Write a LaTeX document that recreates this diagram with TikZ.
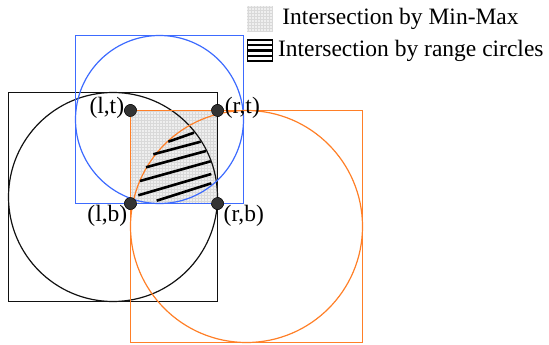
\documentclass[tikz,border=0pt]{standalone}
\usepackage{fontspec}
\setmainfont{Liberation Serif}
\usepackage{xcolor}
\definecolor{cBlack}{HTML}{111111}
\definecolor{cBlue}{HTML}{3D6BFF}
\definecolor{cOrange}{HTML}{FF7F27}
\definecolor{cDot}{HTML}{333333}
\definecolor{cGridBg}{HTML}{EFEFEF}
\definecolor{cGridLine}{HTML}{D9D9D9}
\usepackage{tikz}
\usetikzlibrary{positioning,calc}
\tikzset{
  range-black/.style={draw=cBlack,line width=1.2pt},
  range-blue/.style={draw=cBlue,line width=1.2pt},
  range-orange/.style={draw=cOrange,line width=1.2pt},
  grid-bg/.style={fill=cGridBg},
  grid-line/.style={draw=cGridLine,line width=0.25pt},
  hatch/.style={draw=black,line width=2.6pt},
  node-dot/.style={circle,draw=black,fill=cDot,minimum size=12pt,inner sep=0pt},
  node-label/.style={font=\fontsize{23.5}{26}\selectfont,inner sep=0pt},
  key-grid/.style={minimum width=26pt,minimum height=25pt,inner sep=0pt,
    path picture={
      \fill[grid-bg] (path picture bounding box.south west)
        rectangle (path picture bounding box.north east);
      \draw[grid-line,step=3pt] (path picture bounding box.south west)
        grid (path picture bounding box.north east);}},
  key-hatch/.style={draw=black,line width=0.6pt,minimum width=25pt,
    minimum height=22pt,inner sep=0pt,
    path picture={
      \foreach \f in {0,0.25,0.5,0.75,1}
        \draw[line width=2.4pt]
          ($(path picture bounding box.south west)!\f!(path picture bounding box.north west)$)
          -- ($(path picture bounding box.south east)!\f!(path picture bounding box.north east)$);}},
}

\begin{document}
\begin{tikzpicture}[x=1pt,y=-1pt]
  \useasboundingbox (0,0) rectangle (549,345);

  % corners of the Min-Max box
  \node[node-dot] (lt) at (130.5,110.5) {};
  \node[node-dot] (rt) at (217.5,110.5) {};
  \node[node-dot] (lb) at (130.5,203.5) {};
  \node[node-dot] (rb) at (217.5,203.5) {};

  % Min-Max intersection
  \fill[grid-bg] (lt.center) rectangle (rb.center);
  \begin{scope}
    \clip (lt.center) rectangle (rb.center);
    \draw[grid-line,step=3pt] (lt.center) grid (rb.center);
  \end{scope}

  % range squares and circles
  \draw[range-black] (8.5,92.5) rectangle (217.5,301.5);
  \draw[range-black] (113,197) circle[radius=104.5pt];
  \draw[range-blue] (75.5,35.5) rectangle (243.5,203.5);
  \draw[range-blue] (159.5,119.5) circle[radius=84pt];
  \draw[range-orange] (130.5,110.5) rectangle (362.5,342.5);
  \draw[range-orange] (246.5,226.5) circle[radius=116pt];

  % intersection by range circles
  \foreach \xa/\ya/\xb/\yb in {168.3/141.7/194/132.7, 153.3/154.3/200.7/141.7,
      146/167.3/206/151, 140/181/210.7/161.3, 138.3/195.3/211.3/174,
      156.7/200.7/211.3/183.3}
    \draw[hatch] (\xa,\ya) -- (\xb,\yb);

  \node[node-dot] at (lt) {};
  \node[node-dot] at (rt) {};
  \node[node-dot] at (lb) {};
  \node[node-dot] at (rb) {};

  \node[node-label,anchor=east] (lt-text) at ([yshift=3pt]lt.west) {(l,t)};
  \node[node-label,anchor=west] (rt-text) at ([xshift=1pt,yshift=3pt]rt.east) {(r,t)};
  \node[node-label,anchor=north east] (lb-text) at ([xshift=-3pt,yshift=-1pt]lb.center) {(l,b)};
  \node[node-label,anchor=north west] (rb-text) at ([xshift=6pt,yshift=-1pt]rb.center) {(r,b)};

  % legend
  \node[key-grid] (key-minmax) at (260,19) {};
  \node[node-label,right=9pt of key-minmax] (key-minmax-text) {Intersection by Min-Max};
  \node[key-hatch] (key-circles) at (260,50.5) {};
  \node[node-label,right=5pt of key-circles] (key-circles-text) {Intersection by range circles};
\end{tikzpicture}
\end{document}
